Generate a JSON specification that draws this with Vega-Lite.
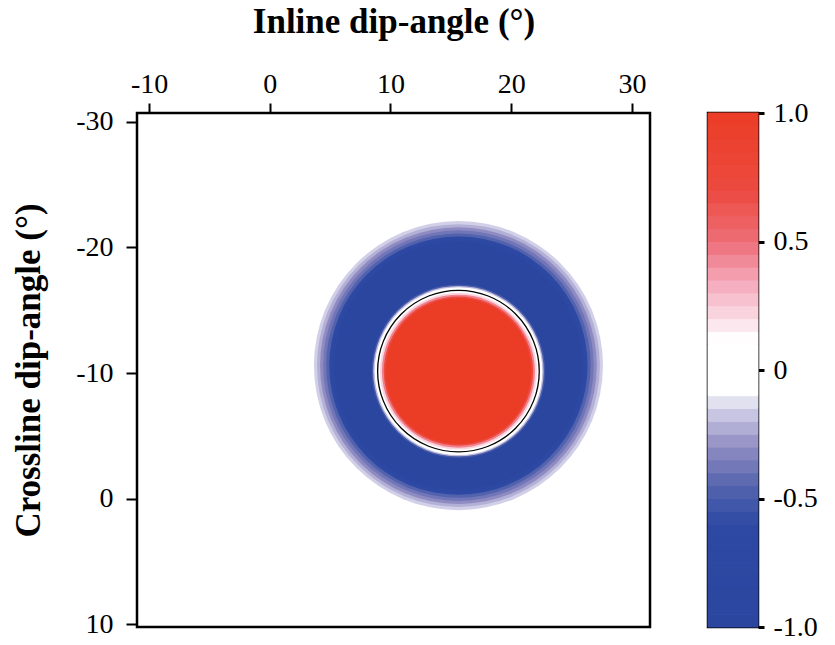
{
  "$schema": "https://vega.github.io/schema/vega-lite/v6.json",
  "padding": {"left": 10, "top": 2, "right": 5, "bottom": 5},
  "background": "white",
  "spacing": 54,
  "datasets": {
    "rings": [
      {"cx": 15.63, "cy": -10.6, "r": 12.0, "v": -0.08},
      {"cx": 15.63, "cy": -10.6, "r": 11.75, "v": -0.15},
      {"cx": 15.63, "cy": -10.6, "r": 11.5, "v": -0.22},
      {"cx": 15.63, "cy": -10.6, "r": 11.25, "v": -0.3},
      {"cx": 15.63, "cy": -10.6, "r": 11.0, "v": -0.38},
      {"cx": 15.63, "cy": -10.6, "r": 10.75, "v": -0.46},
      {"cx": 15.63, "cy": -10.6, "r": 10.5, "v": -0.6},
      {"cx": 15.63, "cy": -10.6, "r": 10.25, "v": -0.8},
      {"cx": 15.63, "cy": -10.6, "r": 10.05, "v": -1.0},
      {"cx": 15.63, "cy": -10.16, "r": 7.05, "v": -0.5},
      {"cx": 15.63, "cy": -10.16, "r": 6.93, "v": -0.2},
      {"cx": 15.63, "cy": -10.16, "r": 6.82, "v": 0},
      {"cx": 15.63, "cy": -10.16, "r": 6.38, "v": 0.22},
      {"cx": 15.63, "cy": -10.16, "r": 6.22, "v": 0.45},
      {"cx": 15.63, "cy": -10.16, "r": 6.07, "v": 0.7},
      {"cx": 15.63, "cy": -10.16, "r": 5.93, "v": 1.0}
    ],
    "contour": [
      {"cx": 15.63, "cy": -10.16, "r": 6.57}
    ],
    "bar": [
      {"lo": -1.0, "hi": -0.95, "v": -0.975},
      {"lo": -0.95, "hi": -0.9, "v": -0.925},
      {"lo": -0.9, "hi": -0.85, "v": -0.875},
      {"lo": -0.85, "hi": -0.8, "v": -0.825},
      {"lo": -0.8, "hi": -0.75, "v": -0.775},
      {"lo": -0.75, "hi": -0.7, "v": -0.725},
      {"lo": -0.7, "hi": -0.65, "v": -0.675},
      {"lo": -0.65, "hi": -0.6, "v": -0.625},
      {"lo": -0.6, "hi": -0.55, "v": -0.575},
      {"lo": -0.55, "hi": -0.5, "v": -0.525},
      {"lo": -0.5, "hi": -0.45, "v": -0.475},
      {"lo": -0.45, "hi": -0.4, "v": -0.425},
      {"lo": -0.4, "hi": -0.35, "v": -0.375},
      {"lo": -0.35, "hi": -0.3, "v": -0.325},
      {"lo": -0.3, "hi": -0.25, "v": -0.275},
      {"lo": -0.25, "hi": -0.2, "v": -0.225},
      {"lo": -0.2, "hi": -0.15, "v": -0.175},
      {"lo": -0.15, "hi": -0.1, "v": -0.125},
      {"lo": -0.1, "hi": -0.05, "v": -0.075},
      {"lo": -0.05, "hi": 0.0, "v": -0.025},
      {"lo": 0.0, "hi": 0.05, "v": 0.025},
      {"lo": 0.05, "hi": 0.1, "v": 0.075},
      {"lo": 0.1, "hi": 0.15, "v": 0.125},
      {"lo": 0.15, "hi": 0.2, "v": 0.175},
      {"lo": 0.2, "hi": 0.25, "v": 0.225},
      {"lo": 0.25, "hi": 0.3, "v": 0.275},
      {"lo": 0.3, "hi": 0.35, "v": 0.325},
      {"lo": 0.35, "hi": 0.4, "v": 0.375},
      {"lo": 0.4, "hi": 0.45, "v": 0.425},
      {"lo": 0.45, "hi": 0.5, "v": 0.475},
      {"lo": 0.5, "hi": 0.55, "v": 0.525},
      {"lo": 0.55, "hi": 0.6, "v": 0.575},
      {"lo": 0.6, "hi": 0.65, "v": 0.625},
      {"lo": 0.65, "hi": 0.7, "v": 0.675},
      {"lo": 0.7, "hi": 0.75, "v": 0.725},
      {"lo": 0.75, "hi": 0.8, "v": 0.775},
      {"lo": 0.8, "hi": 0.85, "v": 0.825},
      {"lo": 0.85, "hi": 0.9, "v": 0.875},
      {"lo": 0.9, "hi": 0.95, "v": 0.925},
      {"lo": 0.95, "hi": 1.0, "v": 0.975}
    ]
  },
  "hconcat": [
    {
      "width": 513,
      "height": 514,
      "layer": [
        {
          "data": {"name": "rings"},
          "mark": {"type": "point", "shape": "circle", "filled": true, "opacity": 1, "strokeWidth": 0},
          "encoding": {
            "x": {
              "field": "cx", "type": "quantitative",
              "scale": {"domain": [-11, 31.5], "nice": false, "zero": false},
              "axis": {"orient": "top", "values": [-10, 0, 10, 20, 30], "tickSize": 10, "labelPadding": 5, "title": "Inline dip-angle (°)", "titlePadding": 31}
            },
            "y": {
              "field": "cy", "type": "quantitative",
              "scale": {"domain": [-30.7, 10.2], "reverse": true, "nice": false, "zero": false},
              "axis": {"orient": "left", "values": [-30, -20, -10, 0, 10], "tickSize": 11, "labelPadding": 13, "title": "Crossline dip-angle (°)", "titlePadding": 29}
            },
            "size": {
              "field": "r", "type": "quantitative",
              "scale": {"type": "pow", "exponent": 2, "domain": [0, 20], "range": [0, 242064]},
              "legend": null
            },
            "color": {
              "field": "v", "type": "quantitative",
              "scale": {
                "type": "linear",
                "interpolate": "rgb",
                "domain": [-1, -0.6, -0.45, -0.3, -0.15, -0.08, 0.12, 0.2, 0.35, 0.5, 0.7, 1],
                "range": ["#2A469F", "#2D49A3", "#5564AE", "#8F8BC2", "#D2D0E8", "#FFFFFF", "#FFFFFF", "#FADCE6", "#F4A6B8", "#EE6E78", "#EC4A40", "#EB3C26"]
              },
              "legend": null
            },
            "order": {"field": "r", "sort": "descending"}
          }
        },
        {
          "data": {"name": "contour"},
          "mark": {"type": "point", "shape": "circle", "filled": false, "color": "black", "strokeWidth": 1.3, "opacity": 1},
          "encoding": {
            "x": {"field": "cx", "type": "quantitative"},
            "y": {"field": "cy", "type": "quantitative"},
            "size": {"field": "r", "type": "quantitative"}
          }
        }
      ]
    },
    {
      "width": 50,
      "height": 514,
      "data": {"name": "bar"},
      "mark": {"type": "rect", "strokeWidth": 1},
      "encoding": {
        "y": {
          "field": "lo", "type": "quantitative",
          "scale": {"domain": [-1, 1], "nice": false, "zero": false},
          "axis": {"orient": "right", "values": [-1, -0.5, 0, 0.5, 1], "tickSize": 6, "tickWidth": 3, "labelPadding": 9, "title": null,
                   "labelExpr": "datum.value == 0 ? '0' : (datum.value < 0 ? '-' + format(-datum.value, '.1f') : format(datum.value, '.1f'))"}
        },
        "y2": {"field": "hi"},
        "color": {
          "field": "v", "type": "quantitative",
          "scale": {
            "type": "linear",
            "interpolate": "rgb",
            "domain": [-1, -0.6, -0.45, -0.3, -0.15, -0.08, 0.12, 0.2, 0.35, 0.5, 0.7, 1],
            "range": ["#2A469F", "#2D49A3", "#5564AE", "#8F8BC2", "#D2D0E8", "#FFFFFF", "#FFFFFF", "#FADCE6", "#F4A6B8", "#EE6E78", "#EC4A40", "#EB3C26"]
          },
          "legend": null
        },
        "stroke": {
          "field": "v", "type": "quantitative",
          "scale": {
            "type": "linear",
            "interpolate": "rgb",
            "domain": [-1, -0.6, -0.45, -0.3, -0.15, -0.08, 0.12, 0.2, 0.35, 0.5, 0.7, 1],
            "range": ["#2A469F", "#2D49A3", "#5564AE", "#8F8BC2", "#D2D0E8", "#FFFFFF", "#FFFFFF", "#FADCE6", "#F4A6B8", "#EE6E78", "#EC4A40", "#EB3C26"]
          },
          "legend": null
        }
      }
    }
  ],
  "config": {
    "view": {"stroke": "black", "strokeWidth": 2.5},
    "axis": {
      "grid": false,
      "domain": false,
      "tickColor": "black",
      "tickWidth": 2,
      "labelFont": "Liberation Serif",
      "labelFontSize": 28,
      "labelColor": "black",
      "labelExpr": "'' + datum.value",
      "titleFont": "Liberation Serif",
      "titleFontWeight": "bold",
      "titleFontSize": 35,
      "titleColor": "black"
    }
  }
}
